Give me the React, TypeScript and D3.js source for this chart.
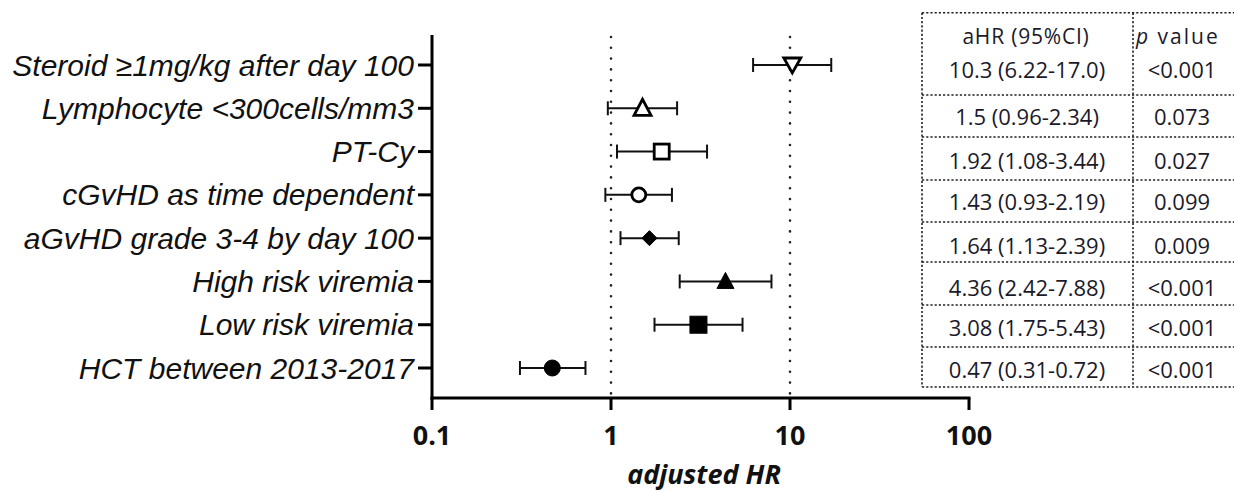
import React from "react";
import * as d3 from "d3";

const categories = [
  "Steroid ≥1mg/kg after day 100",
  "Lymphocyte <300cells/mm3",
  "PT-Cy",
  "cGvHD as time dependent",
  "aGvHD grade 3-4 by day 100",
  "High risk viremia",
  "Low risk viremia",
  "HCT between 2013-2017",
];
const hr = [10.3, 1.5, 1.92, 1.43, 1.64, 4.36, 3.08, 0.47];
const lower = [6.22, 0.96, 1.08, 0.93, 1.13, 2.42, 1.75, 0.31];
const upper = [17.0, 2.34, 3.44, 2.19, 2.39, 7.88, 5.43, 0.72];
const markers = ["triDownOpen", "triUpOpen", "squareOpen", "circleOpen", "diamondFilled", "triUpFilled", "squareFilled", "circleFilled"];
const ciText = [
  "10.3 (6.22-17.0)",
  "1.5 (0.96-2.34)",
  "1.92 (1.08-3.44)",
  "1.43 (0.93-2.19)",
  "1.64 (1.13-2.39)",
  "4.36 (2.42-7.88)",
  "3.08 (1.75-5.43)",
  "0.47 (0.31-0.72)",
];
const pText = ["<0.001", "0.073", "0.027", "0.099", "0.009", "<0.001", "<0.001", "<0.001"];
const xTicks = [0.1, 1, 10, 100];
const refLines = [1, 10];
const xTitle = "adjusted HR";

const W = 1234;
const H = 491;

function Marker({ type, cx, cy }: { type: string; cx: number; cy: number }) {
  const filled = type.endsWith("Filled");
  const fill = filled ? "#000" : "#fff";
  const sw = filled ? 1 : 2.8;
  if (type.startsWith("triDown")) {
    const s = 8.5;
    return <path d={`M${cx - s},${cy - 7} L${cx + s},${cy - 7} L${cx},${cy + 8} Z`} fill={fill} stroke="#000" strokeWidth={sw} strokeLinejoin="miter" />;
  }
  if (type.startsWith("triUp")) {
    const s = 8.5;
    return <path d={`M${cx - s},${cy + 7} L${cx + s},${cy + 7} L${cx},${cy - 9} Z`} fill={fill} stroke="#000" strokeWidth={sw} strokeLinejoin="miter" />;
  }
  if (type.startsWith("square")) {
    const s = filled ? 8.5 : 7.5;
    return <rect x={cx - s} y={cy - s} width={2 * s} height={2 * s} fill={fill} stroke="#000" strokeWidth={sw} />;
  }
  if (type.startsWith("circle")) {
    return <circle cx={cx} cy={cy} r={filled ? 8 : 7} fill={fill} stroke="#000" strokeWidth={sw} />;
  }
  if (type.startsWith("diamond")) {
    const s = 7.5;
    return <path d={`M${cx},${cy - s} L${cx + s},${cy} L${cx},${cy + s} L${cx - s},${cy} Z`} fill={fill} stroke="#000" strokeWidth={sw} />;
  }
  return null;
}

export default function App() {
  const x = d3.scaleLog().domain([0.1, 100]).range([432, 969]);
  const y = d3.scalePoint<string>().domain(categories).range([65, 368]);
  const axisTop = 35;
  const axisY = 398;

  const tLeft = 922;
  const tDiv = 1133;
  const tRight = 1240;
  const rowLines = [12.7, 95, 137, 180, 222, 262, 305, 347, 387];
  const rowText = [70, 117, 161, 202, 246, 288, 328, 370];
  const dotted = { stroke: "#222", strokeWidth: 1.6, strokeDasharray: "2.2,2" };
  const tableFont = "'Open Sans', sans-serif";

  return (
    <svg width={W} height={H} style={{ position: "absolute", left: 0, top: 0, background: "#fff" }}>
      {refLines.map((v) => (
        <line key={v} x1={x(v)} x2={x(v)} y1={axisTop + 2} y2={axisY - 4} stroke="#222" strokeWidth={2.6} strokeDasharray="0,10.8" strokeLinecap="round" />
      ))}

      <line x1={432} x2={432} y1={axisTop} y2={axisY + 1.5} stroke="#000" strokeWidth={3} />
      <line x1={430.5} x2={x(100) + 1.5} y1={axisY} y2={axisY} stroke="#000" strokeWidth={3} />
      {xTicks.map((t) => (
        <g key={t}>
          <line x1={x(t)} x2={x(t)} y1={axisY} y2={axisY + 12} stroke="#000" strokeWidth={3} />
          <text x={x(t)} y={445} textAnchor="middle" fontFamily="'Open Sans', sans-serif" fontWeight="bold" fontSize={27} fill="#111">
            {t}
          </text>
        </g>
      ))}
      <text x={704} y={484} textAnchor="middle" fontFamily="'Open Sans', sans-serif" fontWeight="bold" fontStyle="italic" fontSize={27} fill="#111">
        {xTitle}
      </text>

      {categories.map((c, i) => {
        const cy = y(c)!;
        return (
          <g key={c}>
            <line x1={418} x2={432} y1={cy} y2={cy} stroke="#000" strokeWidth={3} />
            <text x={414} y={cy} dy="0.35em" textAnchor="end" fontFamily="'Liberation Sans', Arial, sans-serif" fontStyle="italic" fontSize={30} fill="#111">
              {c}
            </text>
            <line x1={x(lower[i])} x2={x(upper[i])} y1={cy} y2={cy} stroke="#111" strokeWidth={2} />
            <line x1={x(lower[i])} x2={x(lower[i])} y1={cy - 7} y2={cy + 7} stroke="#111" strokeWidth={2} />
            <line x1={x(upper[i])} x2={x(upper[i])} y1={cy - 7} y2={cy + 7} stroke="#111" strokeWidth={2} />
            <Marker type={markers[i]} cx={x(hr[i])} cy={cy} />
          </g>
        );
      })}

      <line x1={tLeft} x2={tLeft} y1={rowLines[0]} y2={rowLines[rowLines.length - 1]} {...dotted} />
      <line x1={tDiv} x2={tDiv} y1={rowLines[0]} y2={rowLines[rowLines.length - 1]} {...dotted} />
      {rowLines.map((ly, i) => (
        <line key={i} x1={tLeft} x2={tRight} y1={ly} y2={ly} {...dotted} />
      ))}
      <text x={1026} y={37} dy="0.35em" textAnchor="middle" fontFamily={tableFont} fontSize={21} letterSpacing={0.8} fill="#1a1a2a">
        aHR (95%CI)
      </text>
      <text x={1136} y={37} dy="0.35em" textAnchor="start" fontFamily={tableFont} fontSize={21} letterSpacing={2} fill="#1a1a2a">
        <tspan fontStyle="italic">p</tspan> value
      </text>
      {ciText.map((t, i) => (
        <g key={i}>
          <text x={1027} y={rowText[i]} dy="0.35em" textAnchor="middle" fontFamily={tableFont} fontSize={22} fill="#1a1a2a">
            {t}
          </text>
          <text x={1182} y={rowText[i]} dy="0.35em" textAnchor="middle" fontFamily={tableFont} fontSize={22} fill="#1a1a2a">
            {pText[i]}
          </text>
        </g>
      ))}
    </svg>
  );
}
